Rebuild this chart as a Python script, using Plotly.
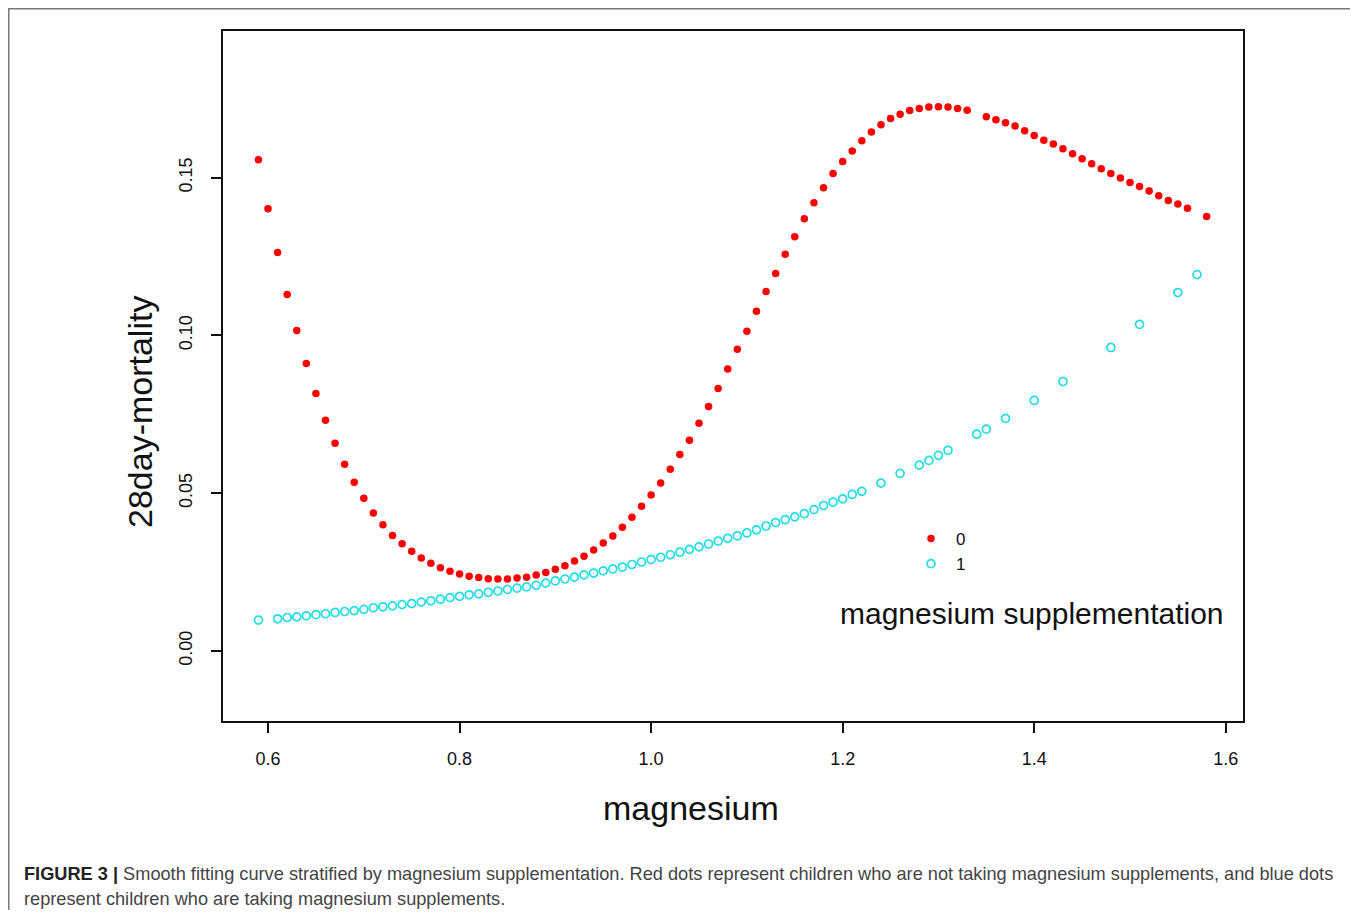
import plotly.graph_objects as go

# ---- data ----
red_x = [0.59, 0.60, 0.61, 0.62, 0.63, 0.64, 0.65, 0.66, 0.67, 0.68, 0.69,
         0.70, 0.71, 0.72, 0.73, 0.74, 0.75, 0.76, 0.77, 0.78, 0.79,
         0.80, 0.81, 0.82, 0.83, 0.84, 0.85, 0.86, 0.87, 0.88, 0.89,
         0.90, 0.91, 0.92, 0.93, 0.94, 0.95, 0.96, 0.97, 0.98, 0.99,
         1.00, 1.01, 1.02, 1.03, 1.04, 1.05, 1.06, 1.07, 1.08, 1.09,
         1.10, 1.11, 1.12, 1.13, 1.14, 1.15, 1.16, 1.17, 1.18, 1.19,
         1.20, 1.21, 1.22, 1.23, 1.24, 1.25, 1.26, 1.27, 1.28, 1.29,
         1.30, 1.31, 1.32, 1.33, 1.35, 1.36, 1.37, 1.38, 1.39,
         1.40, 1.41, 1.42, 1.43, 1.44, 1.45, 1.46, 1.47, 1.48, 1.49,
         1.50, 1.51, 1.52, 1.53, 1.54, 1.55, 1.56, 1.58]
red_y = [0.1557, 0.1402, 0.1263, 0.1130, 0.1016, 0.0911, 0.0816, 0.0731, 0.0658, 0.0592, 0.0535,
         0.0484, 0.0437, 0.0400, 0.0366, 0.0340, 0.0316, 0.0295, 0.0278, 0.0264, 0.0253,
         0.0244, 0.0237, 0.0233, 0.0229, 0.0228, 0.0228, 0.0231, 0.0234, 0.0241, 0.0249,
         0.0259, 0.0270, 0.0285, 0.0300, 0.0320, 0.0342, 0.0364, 0.0392, 0.0424, 0.0459,
         0.0494, 0.0532, 0.0576, 0.0623, 0.0668, 0.0722, 0.0775, 0.0832, 0.0894, 0.0956,
         0.1013, 0.1077, 0.1139, 0.1196, 0.1257, 0.1313, 0.1370, 0.1421, 0.1468, 0.1513,
         0.1551, 0.1585, 0.1617, 0.1645, 0.1668, 0.1688, 0.1701, 0.1713, 0.1719, 0.1724,
         0.1725, 0.1724, 0.1719, 0.1714, 0.1693, 0.1684, 0.1674, 0.1664, 0.1649,
         0.1634, 0.1619, 0.1607, 0.1592, 0.1576, 0.1560, 0.1544, 0.1528, 0.1513, 0.1499,
         0.1485, 0.1472, 0.1458, 0.1443, 0.1428, 0.1417, 0.1403, 0.1377]

blue_x = [0.59, 0.61, 0.62, 0.63, 0.64, 0.65, 0.66, 0.67, 0.68, 0.69,
          0.70, 0.71, 0.72, 0.73, 0.74, 0.75, 0.76, 0.77, 0.78, 0.79,
          0.80, 0.81, 0.82, 0.83, 0.84, 0.85, 0.86, 0.87, 0.88, 0.89,
          0.90, 0.91, 0.92, 0.93, 0.94, 0.95, 0.96, 0.97, 0.98, 0.99,
          1.00, 1.01, 1.02, 1.03, 1.04, 1.05, 1.06, 1.07, 1.08, 1.09,
          1.10, 1.11, 1.12, 1.13, 1.14, 1.15, 1.16, 1.17, 1.18, 1.19,
          1.20, 1.21, 1.22, 1.24, 1.26, 1.28, 1.29, 1.30, 1.31,
          1.34, 1.35, 1.37, 1.40, 1.43, 1.48, 1.51, 1.55, 1.57]
blue_y = [0.0098, 0.0102, 0.0106, 0.0108, 0.0111, 0.0115, 0.0118, 0.0122, 0.0125, 0.0128,
          0.0132, 0.0137, 0.0140, 0.0143, 0.0147, 0.0150, 0.0155, 0.0159, 0.0164, 0.0169,
          0.0173, 0.0178, 0.0181, 0.0186, 0.0190, 0.0195, 0.0199, 0.0203, 0.0208, 0.0215,
          0.0222, 0.0228, 0.0234, 0.0241, 0.0247, 0.0254, 0.0260, 0.0266, 0.0274, 0.0282,
          0.0290, 0.0297, 0.0305, 0.0313, 0.0322, 0.0330, 0.0339, 0.0348, 0.0357, 0.0365,
          0.0374, 0.0384, 0.0396, 0.0407, 0.0416, 0.0425, 0.0435, 0.0448, 0.0461, 0.0472,
          0.0482, 0.0496, 0.0506, 0.0532, 0.0563, 0.0589, 0.0604, 0.0620, 0.0636,
          0.0687, 0.0703, 0.0737, 0.0794, 0.0854, 0.0962, 0.1035, 0.1136, 0.1193]

legend_names = ["0", "1"]
x_ticks = [0.6, 0.8, 1.0, 1.2, 1.4, 1.6]
y_ticks = [0.00, 0.05, 0.10, 0.15]
y_tick_text = ["0.00", "0.05", "0.10", "0.15"]

# the page body adds an 8 px margin, so the figure is drawn offset by 8 px
OFF = 8
W, H = 1358 - OFF, 918 - 2 * OFF
# plot area in page pixels
L, R, T, B = 223, 1243, 31, 721

def px(xp):  # page pixel x -> paper
    return (xp - L) / (R - L)

def py(yp):  # page pixel y -> paper
    return (B - yp) / (B - T)

fig = go.Figure()
fig.add_trace(go.Scatter(
    x=red_x, y=red_y, mode="markers", name=legend_names[0],
    marker=dict(symbol="circle", size=7.5, color="#FF0000", line=dict(width=0)),
))
fig.add_trace(go.Scatter(
    x=blue_x, y=blue_y, mode="markers", name=legend_names[1],
    marker=dict(symbol="circle-open", size=8, color="#22DDE6", line=dict(width=1.7)),
))

font_main = "Liberation Sans, Arial, sans-serif"

fig.update_layout(
    width=W, height=H,
    margin=dict(l=L - OFF, r=W - (R - OFF), t=T - OFF, b=H - (B - OFF), autoexpand=False),
    paper_bgcolor="white", plot_bgcolor="white",
    showlegend=True,
    legend=dict(
        x=px(906), y=py(521), xanchor="left", yanchor="top",
        bgcolor="rgba(0,0,0,0)", font=dict(family=font_main, size=17, color="#111"),
        itemwidth=40, tracegroupgap=0,
    ),
    xaxis=dict(
        range=[0.553, 1.618], tickvals=x_ticks, ticktext=[f"{v:.1f}" for v in x_ticks],
        showgrid=False, zeroline=False, showline=True, linecolor="#111", linewidth=2,
        mirror=True, ticks="outside", ticklen=10, tickwidth=2, tickcolor="#111",
        tickfont=dict(family=font_main, size=18, color="#111"),
        ticklabelstandoff=10,
    ),
    yaxis=dict(
        range=[-0.0222, 0.1965], tickvals=y_ticks, ticktext=y_tick_text, tickangle=-90,
        showgrid=False, zeroline=False, showline=True, linecolor="#111", linewidth=2,
        mirror=True, ticks="outside", ticklen=10, tickwidth=2, tickcolor="#111",
        tickfont=dict(family=font_main, size=18, color="#111"),
        ticklabelstandoff=12,
    ),
)

annotations = [
    dict(text="magnesium", x=px(691), y=py(808), xref="paper", yref="paper",
         showarrow=False, xanchor="center", yanchor="middle",
         font=dict(family=font_main, size=34, color="#111")),
    dict(text="28day-mortality", x=px(140), y=py(412), xref="paper", yref="paper",
         showarrow=False, xanchor="center", yanchor="middle", textangle=-90,
         font=dict(family=font_main, size=34, color="#111")),
    dict(text="magnesium supplementation", x=px(1032), y=py(613), xref="paper", yref="paper",
         showarrow=False, xanchor="center", yanchor="middle",
         font=dict(family=font_main, size=30, color="#111")),
    dict(text="<b>FIGURE 3 |</b> <span style='color:#444'>Smooth fitting curve stratified by magnesium supplementation. "
              "Red dots represent children who are not taking magnesium supplements, and blue dots</span>",
         x=px(22), y=py(874), xref="paper", yref="paper", showarrow=False,
         xanchor="left", yanchor="middle",
         font=dict(family=font_main, size=18.2, color="#222")),
    dict(text="represent children who are taking magnesium supplements.",
         x=px(22), y=py(899), xref="paper", yref="paper", showarrow=False,
         xanchor="left", yanchor="middle",
         font=dict(family=font_main, size=18.2, color="#444")),
]
fig.update_layout(annotations=annotations)

# outer figure frame (bottom edge lies below the visible area)
fig.add_shape(type="rect", xref="paper", yref="paper",
              x0=px(8.8), x1=px(1355), y0=py(940), y1=py(8.8),
              line=dict(color="#777", width=1.5), fillcolor="rgba(0,0,0,0)", layer="below")

fig.write_html("out.html")
